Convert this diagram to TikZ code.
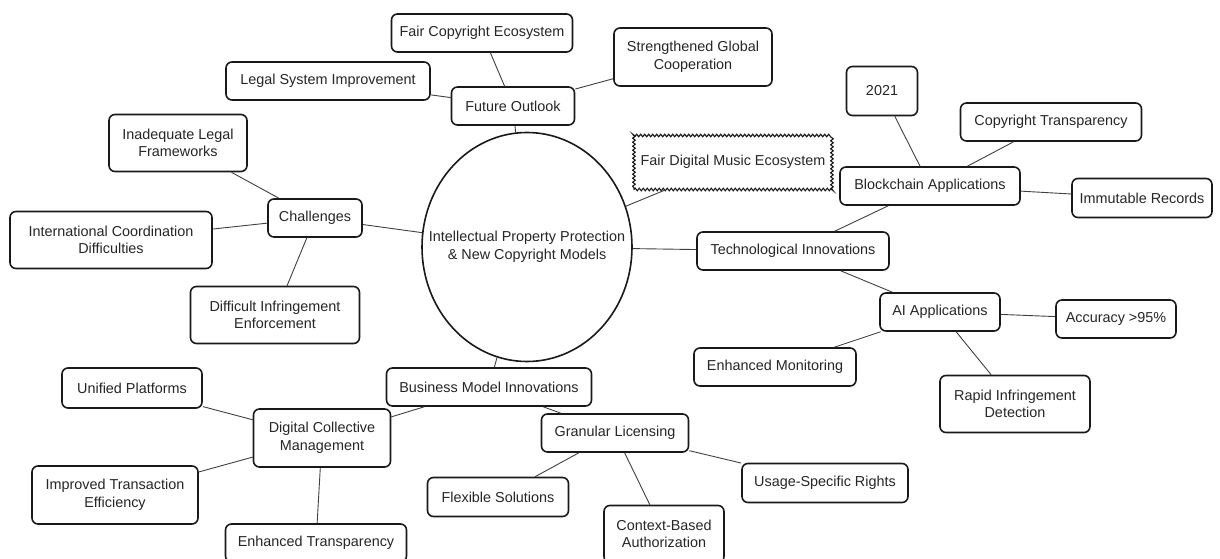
\documentclass[tikz,border=0pt]{standalone}
\usepackage{fontspec}
\setmainfont{Liberation Sans}
\usetikzlibrary{shapes.geometric,decorations.pathmorphing}
\begin{document}
\begin{tikzpicture}[x=1pt,y=-1pt,
  every node/.style={font=\fontsize{14.4}{17.5}\selectfont, text=black!85, align=center, inner sep=0pt},
  box/.style={draw=black!90, line width=1.6pt, rounded corners=6pt, fill=white},
  wavybox/.style={draw=black!90, line width=1.1pt, fill=white, decorate, decoration={snake, segment length=4pt, amplitude=1.3pt}},
  hub/.style={ellipse, draw=black!90, line width=1.6pt, fill=white},
  link/.style={draw=black!75, line width=0.9pt}]
\useasboundingbox (0,0) rectangle (1220,559);
% central
\node[hub, minimum width=210, minimum height=229] (c) at (527,247) {};
\node (ctext) at (c.center) {Intellectual Property Protection\\ \& New Copyright Models};
% future outlook
\node[box, minimum width=123, minimum height=38] (fo) at (513,106) {Future Outlook};
\node[box, minimum width=181, minimum height=38] (fc) at (482,33) {Fair Copyright Ecosystem};
\node[box, minimum width=204, minimum height=38] (ls) at (328,81) {Legal System Improvement};
\node[box, minimum width=158, minimum height=58] (sg) at (693,57) {Strengthened Global\\Cooperation};
% fair digital
\node[wavybox, minimum width=198, minimum height=55] (fdm) at (733,162) {Fair Digital Music Ecosystem};
% tech
\node[box, minimum width=192, minimum height=38] (ti) at (793,251) {Technological Innovations};
\node[box, minimum width=180, minimum height=38] (ba) at (930,186) {Blockchain Applications};
\node[box, minimum width=71, minimum height=49] (y21) at (882,91) {2021};
\node[box, minimum width=181, minimum height=38] (ct) at (1051,122) {Copyright Transparency};
\node[box, minimum width=140, minimum height=39] (ir) at (1142,198) {Immutable Records};
\node[box, minimum width=120, minimum height=38] (ai) at (940,312) {AI Applications};
\node[box, minimum width=120, minimum height=38] (acc) at (1116,319) {Accuracy >95\%};
\node[box, minimum width=162, minimum height=38] (em) at (775,367) {Enhanced Monitoring};
\node[box, minimum width=150, minimum height=57] (rid) at (1015,404) {Rapid Infringement\\Detection};
% challenges
\node[box, minimum width=94, minimum height=38] (ch) at (315,218) {Challenges};
\node[box, minimum width=138, minimum height=57] (ilf) at (178,143) {Inadequate Legal\\Frameworks};
\node[box, minimum width=202, minimum height=57] (icd) at (111,240) {International Coordination\\Difficulties};
\node[box, minimum width=169, minimum height=57] (die) at (275,315) {Difficult Infringement\\Enforcement};
% business
\node[box, minimum width=205, minimum height=38] (bmi) at (489,387) {Business Model Innovations};
\node[box, minimum width=147, minimum height=38] (gl) at (615,433) {Granular Licensing};
\node[box, minimum width=141, minimum height=39] (fs) at (498,497) {Flexible Solutions};
\node[box, minimum width=120, minimum height=57] (cba) at (664,534) {Context-Based\\Authorization};
\node[box, minimum width=166, minimum height=39] (usr) at (825,483) {Usage-Specific Rights};
\node[box, minimum width=137, minimum height=58] (dcm) at (322,438) {Digital Collective\\Management};
\node[box, minimum width=140, minimum height=40] (up) at (132,388) {Unified Platforms};
\node[box, minimum width=166, minimum height=58] (ite) at (115,495) {Improved Transaction\\Efficiency};
\node[box, minimum width=181, minimum height=38] (et) at (316,543) {Enhanced Transparency};
% connectors
\draw[link] (c) -- (fo);
\draw[link] (c) -- (ch);
\draw[link] (c) -- (fdm);
\draw[link] (c) -- (ti);
\draw[link] (c) -- (bmi);
\draw[link] (fo) -- (fc);
\draw[link] (fo) -- (ls);
\draw[link] (fo) -- (sg);
\draw[link] (ch) -- (ilf);
\draw[link] (ch) -- (icd);
\draw[link] (ch) -- (die);
\draw[link] (ti) -- (ba);
\draw[link] (ti) -- (ai);
\draw[link] (ba) -- (y21);
\draw[link] (ba) -- (ct);
\draw[link] (ba) -- (ir);
\draw[link] (ai) -- (acc);
\draw[link] (ai) -- (em);
\draw[link] (ai) -- (rid);
\draw[link] (bmi) -- (dcm);
\draw[link] (bmi) -- (gl);
\draw[link] (dcm) -- (up);
\draw[link] (dcm) -- (ite);
\draw[link] (dcm) -- (et);
\draw[link] (gl) -- (fs);
\draw[link] (gl) -- (cba);
\draw[link] (gl) -- (usr);
\end{tikzpicture}
\end{document}
